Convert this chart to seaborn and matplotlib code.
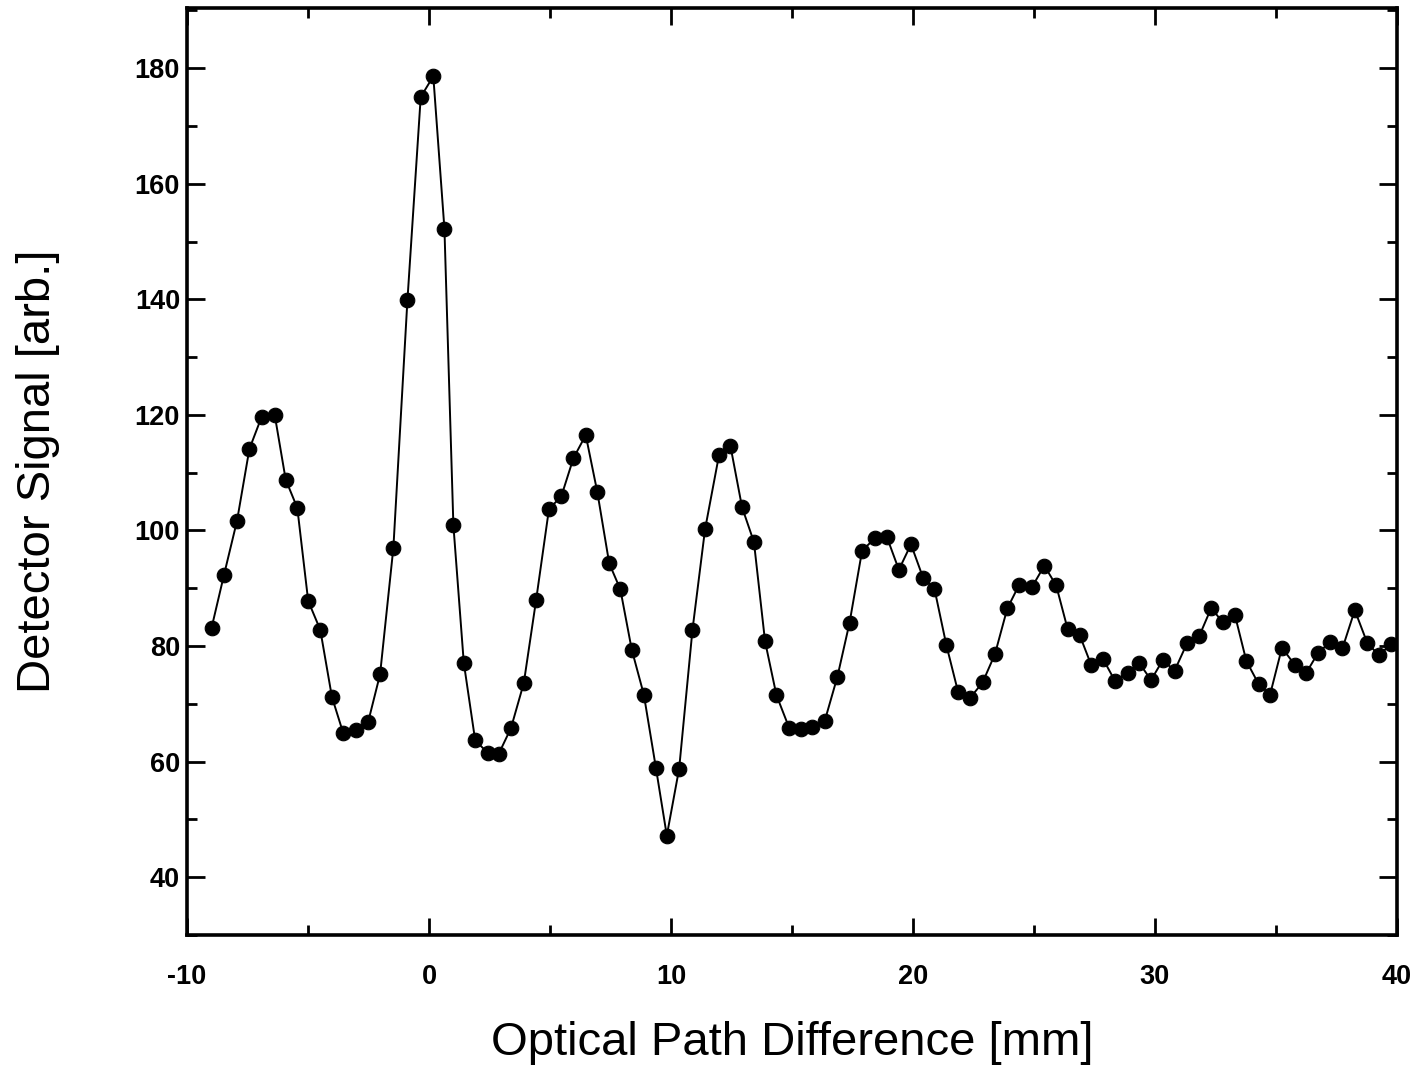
import matplotlib
matplotlib.use("Agg")
import matplotlib.pyplot as plt
import seaborn as sns
import pandas as pd
from matplotlib.ticker import MultipleLocator

# Interferogram scan: optical path difference [mm] vs detector signal [arb.]
opd_mm = [
    -8.98, -8.47, -7.93, -7.42, -6.91, -6.37, -5.92, -5.44, -4.99, -4.49,
    -4.01, -3.54, -3.01, -2.51, -2.02, -1.47, -0.89, -0.34, 0.18, 0.64,
    1.01, 1.44, 1.91, 2.43, 2.89, 3.39, 3.92, 4.43, 4.96, 5.47,
    5.97, 6.48, 6.96, 7.45, 7.91, 8.38, 8.88, 9.38, 9.83, 10.34,
    10.89, 11.41, 11.99, 12.46, 12.94, 13.43, 13.89, 14.36, 14.89, 15.37,
    15.85, 16.36, 16.88, 17.38, 17.90, 18.44, 18.92, 19.42, 19.92, 20.43,
    20.89, 21.38, 21.87, 22.36, 22.88, 23.39, 23.90, 24.38, 24.92, 25.43,
    25.92, 26.39, 26.89, 27.37, 27.85, 28.36, 28.87, 29.35, 29.84, 30.33,
    30.81, 31.33, 31.84, 32.33, 32.80, 33.31, 33.78, 34.29, 34.76, 35.25,
    35.77, 36.26, 36.74, 37.25, 37.75, 38.26, 38.77, 39.25, 39.76,
]
signal = [
    83.2, 92.3, 101.7, 114.1, 119.7, 119.9, 108.8, 103.9, 87.8, 82.8,
    71.2, 64.9, 65.4, 66.9, 75.1, 97.0, 139.8, 175.0, 178.6, 152.2,
    100.9, 77.1, 63.7, 61.5, 61.4, 65.8, 73.6, 88.0, 103.7, 105.9,
    112.5, 116.5, 106.6, 94.3, 89.8, 79.4, 71.6, 58.9, 47.2, 58.8,
    82.8, 100.2, 113.1, 114.6, 104.0, 98.0, 80.8, 71.5, 65.8, 65.7,
    66.0, 67.1, 74.7, 84.0, 96.5, 98.7, 98.9, 93.2, 97.6, 91.7,
    89.9, 80.2, 72.0, 71.0, 73.7, 78.6, 86.5, 90.5, 90.2, 93.9,
    90.5, 83.0, 81.9, 76.7, 77.8, 73.9, 75.4, 77.1, 74.1, 77.6,
    75.7, 80.5, 81.8, 86.6, 84.1, 85.3, 77.4, 73.4, 71.6, 79.7,
    76.8, 75.4, 78.8, 80.7, 79.6, 86.2, 80.6, 78.4, 80.3,
]
x_ticks = [-10, 0, 10, 20, 30, 40]
y_ticks = [40, 60, 80, 100, 120, 140, 160, 180]

df = pd.DataFrame({"opd": opd_mm, "signal": signal})

sns.set_theme(style="ticks")
plt.rcParams["font.family"] = ["Liberation Sans", "DejaVu Sans"]
plt.rcParams["axes.unicode_minus"] = False

fig = plt.figure(figsize=(14.11, 10.71), dpi=100)
ax = fig.add_axes([0.1325, 0.127, 0.8575, 0.8655])

sns.lineplot(
    data=df, x="opd", y="signal", ax=ax, sort=False,
    color="black", linewidth=1.4,
    marker="o", markersize=10.5, markeredgecolor="black",
    markerfacecolor="black", markeredgewidth=0.8,
)

ax.set_xlim(-10, 40)
ax.set_ylim(30, 190.4)
ax.set_xticks(x_ticks)
ax.set_yticks(y_ticks)
ax.xaxis.set_minor_locator(MultipleLocator(5))
ax.yaxis.set_minor_locator(MultipleLocator(10))

for side in ["left", "right", "top", "bottom"]:
    ax.spines[side].set_visible(True)
    ax.spines[side].set_linewidth(2.6)
    ax.spines[side].set_color("black")

ax.tick_params(which="both", direction="in", top=True, right=True,
               color="black", width=2.0)
ax.tick_params(axis="y", which="major", length=13, pad=5)
ax.tick_params(axis="y", which="minor", length=7)
ax.tick_params(axis="x", which="major", length=12, pad=21)
ax.tick_params(axis="x", which="minor", length=7)

for lab in ax.get_xticklabels() + ax.get_yticklabels():
    lab.set_fontsize(19.5)
    lab.set_fontweight("bold")
    lab.set_color("black")

ax.set_xlabel("Optical Path Difference [mm]", fontsize=34, color="black",
              labelpad=22)
ax.set_ylabel("Detector Signal [arb.]", fontsize=34, color="black",
              labelpad=54)

fig.savefig("out.png", dpi=100, facecolor="white")
